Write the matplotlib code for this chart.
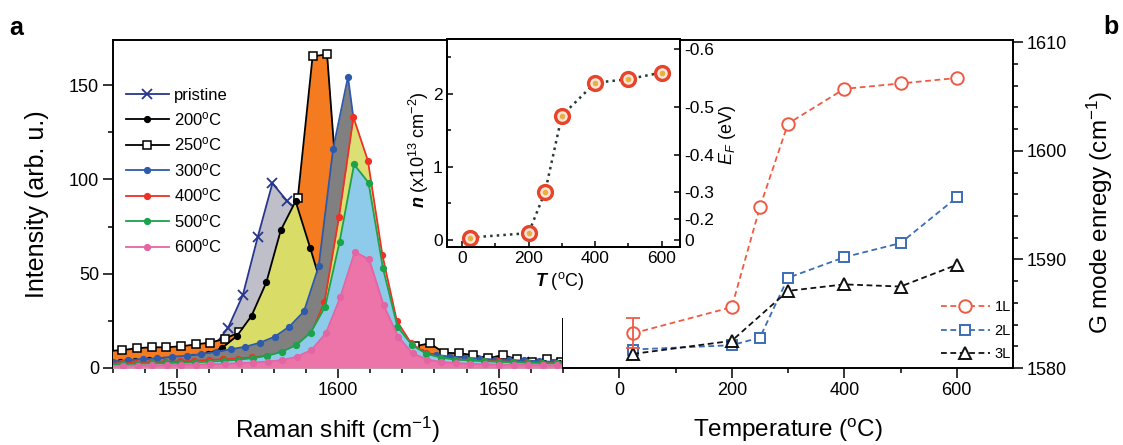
import matplotlib
matplotlib.use('Agg')
import matplotlib.pyplot as plt
from matplotlib.lines import Line2D
from matplotlib.ticker import FixedLocator

plt.rcParams['font.family'] = ['Liberation Sans', 'DejaVu Sans']
plt.rcParams['mathtext.fontset'] = 'custom'
plt.rcParams['mathtext.rm'] = 'Liberation Sans'
plt.rcParams['mathtext.it'] = 'Liberation Sans:italic'
plt.rcParams['mathtext.bf'] = 'Liberation Sans:italic:bold'

# ---------------- data: panel a (Raman spectra) ----------------
pristine_x = [1529.0, 1533.6, 1538.2, 1542.8, 1547.4, 1552.0, 1556.6, 1561.2, 1565.8, 1570.4, 1575.0,
              1579.6, 1584.2, 1588.8, 1593.4, 1598.0, 1602.6, 1607.2, 1611.8, 1616.4, 1621.0, 1625.6,
              1630.2, 1634.8, 1639.4, 1644.0, 1648.6, 1653.2, 1657.8, 1662.4, 1667.0, 1671.6]
pristine_y = [4.3, 4.5, 5.0, 5.5, 6.0, 6.5, 7.5, 11.0, 21.3, 38.7, 69.3,
              98.0, 88.5, 82.0, 45.0, 22.0, 13.0, 9.0, 7.0, 6.0, 5.0, 4.5,
              4.0, 4.0, 3.5, 3.5, 3.0, 3.0, 3.0, 2.5, 2.5, 2.5]

s200_x = [1527.7, 1532.2, 1536.8, 1541.3, 1545.9, 1550.4, 1555.0, 1559.5, 1564.0, 1568.6, 1573.1,
          1577.7, 1582.2, 1586.8, 1591.4, 1595.9, 1600.5, 1605.0, 1609.6, 1614.1, 1618.7, 1623.2,
          1627.8, 1632.3, 1636.9, 1641.4, 1646.0, 1650.5, 1655.1, 1659.6, 1664.2, 1668.7, 1673.3]
s200_y = [3.0, 3.0, 3.5, 4.0, 4.5, 5.0, 6.0, 7.6, 10.7, 17.1, 27.7,
          45.4, 73.1, 88.5, 63.4, 38.0, 22.0, 14.0, 10.0, 7.5, 6.0, 5.0,
          4.5, 4.0, 3.8, 3.5, 3.3, 3.0, 2.8, 2.6, 2.5, 2.4, 2.3]

s250_x = [1528.4, 1532.9, 1537.5, 1542.0, 1546.6, 1551.1, 1555.7, 1560.2, 1564.8, 1569.3, 1573.9,
          1578.4, 1583.0, 1587.5, 1592.1, 1596.6, 1601.2, 1605.7, 1610.3, 1614.8, 1619.4, 1623.9,
          1628.5, 1633.0, 1637.6, 1642.1, 1646.7, 1651.2, 1655.8, 1660.3, 1664.9, 1669.4, 1673.9]
s250_y = [9.0, 9.5, 10.5, 11.0, 11.0, 11.5, 12.5, 13.5, 15.5, 19.0, 24.0,
          36.0, 58.0, 90.3, 165.3, 166.4, 62.0, 25.0, 15.0, 12.0, 11.0, 11.5,
          13.1, 8.1, 7.8, 6.9, 5.1, 6.9, 4.6, 3.4, 4.6, 3.0, 3.0]

s300_x = [1525.5, 1530.1, 1534.7, 1539.2, 1543.8, 1548.4, 1552.9, 1557.5, 1562.0, 1566.6, 1571.2,
          1575.7, 1580.3, 1584.9, 1589.4, 1594.0, 1598.5, 1603.1, 1607.7, 1612.2, 1616.8, 1621.4,
          1625.9, 1630.5, 1635.0, 1639.6, 1644.2, 1648.7, 1653.3, 1657.9, 1662.4, 1667.0, 1671.6]
s300_y = [3.0, 3.4, 4.2, 4.8, 5.1, 6.0, 6.5, 7.4, 8.6, 9.9, 11.3,
          13.4, 16.6, 22.0, 30.0, 54.0, 116.4, 154.4, 95.0, 42.0, 20.0, 11.0,
          8.5, 7.0, 6.0, 5.5, 5.0, 4.5, 4.2, 4.0, 3.6, 3.3, 3.0]

s400_x = [1528.3, 1532.8, 1537.3, 1541.8, 1546.3, 1550.8, 1555.3, 1559.8, 1564.3, 1568.8, 1573.3,
          1577.8, 1582.3, 1586.8, 1591.3, 1595.8, 1600.3, 1604.8, 1609.3, 1613.8, 1618.3, 1622.8,
          1627.3, 1631.8, 1636.3, 1640.8, 1645.3, 1649.8, 1654.3, 1658.8, 1663.3, 1667.8, 1672.3]
s400_y = [2.4, 2.5, 2.8, 3.0, 3.2, 3.5, 3.8, 4.2, 4.6, 5.0, 5.6,
          6.5, 8.0, 11.0, 17.0, 35.0, 80.0, 133.0, 110.0, 60.0, 25.0, 13.0,
          8.0, 5.5, 4.5, 4.0, 3.8, 3.5, 3.3, 3.0, 2.8, 2.6, 2.5]

s500_x = [1528.5, 1533.0, 1537.5, 1542.0, 1546.5, 1551.0, 1555.5, 1560.0, 1564.5, 1569.0, 1573.5,
          1578.0, 1582.5, 1587.0, 1591.5, 1596.0, 1600.5, 1605.0, 1609.5, 1614.0, 1618.5, 1623.0,
          1627.5, 1632.0, 1636.5, 1641.0, 1645.5, 1650.0, 1654.5, 1659.0, 1663.5, 1668.0, 1672.5]
s500_y = [1.9, 2.0, 2.2, 2.4, 2.6, 2.8, 3.0, 3.4, 3.8, 4.4, 5.2,
          6.5, 8.6, 12.2, 18.8, 32.5, 67.0, 108.0, 98.3, 52.8, 21.9, 12.2,
          7.5, 5.5, 4.5, 4.0, 3.6, 3.3, 3.0, 2.8, 2.6, 2.4, 2.3]

s600_x = [1528.7, 1533.2, 1537.7, 1542.2, 1546.7, 1551.2, 1555.7, 1560.2, 1564.7, 1569.2, 1573.7,
          1578.2, 1582.7, 1587.2, 1591.7, 1596.2, 1600.7, 1605.2, 1609.7, 1614.2, 1618.7, 1623.2,
          1627.7, 1632.2, 1636.7, 1641.2, 1645.7, 1650.2, 1654.7, 1659.2, 1663.7, 1668.2, 1672.7]
s600_y = [1.1, 1.2, 1.3, 1.4, 1.5, 1.6, 1.8, 2.0, 2.2, 2.5, 2.9,
          3.4, 4.2, 6.0, 9.5, 18.4, 37.5, 61.6, 57.6, 33.4, 16.6, 7.8,
          4.5, 3.2, 2.6, 2.3, 2.0, 1.8, 1.7, 1.6, 1.5, 1.4, 1.3]

legend_labels_a = ['pristine', '200$^{\\rm o}$C', '250$^{\\rm o}$C', '300$^{\\rm o}$C',
                   '400$^{\\rm o}$C', '500$^{\\rm o}$C', '600$^{\\rm o}$C']

# ---------------- data: panel b (G mode energy) ----------------
T_12 = [25, 200, 250, 300, 400, 500, 600]
G_1L = [1583.2, 1585.6, 1594.8, 1602.5, 1605.7, 1606.2, 1606.7]
G_1L_err = 1.4
G_2L = [1581.7, 1582.1, 1582.8, 1588.3, 1590.2, 1591.5, 1595.7]
T_3 = [25, 200, 300, 400, 500, 600]
G_3L = [1581.3, 1582.5, 1587.1, 1587.7, 1587.5, 1589.5]

# ---------------- data: inset (carrier density) ----------------
T_in = [25, 200, 250, 300, 400, 500, 600]
n_in = [0.03, 0.09, 0.66, 1.70, 2.15, 2.20, 2.29]
EF_ticks = [0, -0.2, -0.3, -0.4, -0.5, -0.6]
EF_labels = ['0', '-0.2', '-0.3', '-0.4', '-0.5', '-0.6']
N_PER_EF2 = 7.25  # n (1e13 cm^-2) = 7.25 * EF^2 (eV)

# ---------------- figure ----------------
W, H = 1123, 445
fig = plt.figure(figsize=(W / 100, H / 100), dpi=100)


def fx(px):
    return px / W


def fy(py):
    return 1 - py / H


L_A, R_A, R_B, TOP, BOT = 113, 563, 1013, 40, 368
ax_a = fig.add_axes([fx(L_A), fy(BOT), fx(R_A) - fx(L_A), fy(TOP) - fy(BOT)])
ax_b = fig.add_axes([fx(R_A), fy(BOT), fx(R_B) - fx(R_A), fy(TOP) - fy(BOT)])

SPINE_LW = 1.4
TICK_FS = 13

# panel a
ax_a.set_xlim(1530, 1670)
ax_a.set_ylim(0, 174)
draw_order = [
    (pristine_x, pristine_y, '#bfbfc9', dict(color='#28358c', marker='x', ms=6.5, mew=1.3)),
    (s250_x, s250_y, '#f47b20', dict(color='black', marker='s', ms=5.5, mfc='white', mec='black', mew=1.1)),
    (s200_x, s200_y, '#d9dc66', dict(color='black', marker='o', ms=4.2)),
    (s300_x, s300_y, '#808080', dict(color='#2e5aac', marker='o', ms=4.2)),
    (s400_x, s400_y, '#dcdf74', dict(color='#ee3124', marker='o', ms=4.2)),
    (s500_x, s500_y, '#8ecbea', dict(color='#1ba24a', marker='o', ms=4.2)),
    (s600_x, s600_y, '#ec74a8', dict(color='#e465a3', marker='o', ms=4.2)),
]
for i, (xs, ys, fc, st) in enumerate(draw_order):
    ax_a.fill_between(xs, 0, ys, color=fc, lw=0, zorder=2 + 2 * i)
    ax_a.plot(xs, ys, lw=1.3, zorder=3 + 2 * i, **st)

legend_styles = [draw_order[0][3], draw_order[2][3], draw_order[1][3], draw_order[3][3],
                 draw_order[4][3], draw_order[5][3], draw_order[6][3]]
handles = [Line2D([], [], lw=1.3, **st) for st in legend_styles]
ax_a.legend(handles, legend_labels_a, loc='upper left', bbox_to_anchor=(0.028, 0.855),
            frameon=False, fontsize=12, handlelength=2.6, handletextpad=0.3,
            labelspacing=0.45, borderpad=0, borderaxespad=0)

ax_a.xaxis.set_major_locator(FixedLocator([1550, 1600, 1650]))
ax_a.xaxis.set_minor_locator(FixedLocator([1530, 1540, 1560, 1570, 1580, 1590, 1610, 1620, 1630, 1640, 1660, 1670]))
ax_a.yaxis.set_major_locator(FixedLocator([0, 50, 100, 150]))
ax_a.yaxis.set_minor_locator(FixedLocator([25, 75, 125]))
ax_a.spines['right'].set_visible(False)
ax_a.plot([1, 1], [0, 0.152], transform=ax_a.transAxes, color='black', lw=SPINE_LW,
          clip_on=False, zorder=30, solid_capstyle='butt')

# panel b
ax_b.set_xlim(-100, 700)
ax_b.set_ylim(1580, 1610.2)
c1, c2, c3 = '#ef5a43', '#3b6cb7', '#111111'
dash = (0, (3.2, 2.0))
ax_b.plot(T_12, G_1L, ls=dash, lw=1.3, color=c1, marker='o', ms=9, mfc='white', mec=c1, mew=1.4, label='1L', zorder=4)
ax_b.plot(T_12, G_2L, ls=dash, lw=1.3, color=c2, marker='s', ms=7.5, mfc='white', mec=c2, mew=1.4, label='2L', zorder=3)
ax_b.plot(T_3, G_3L, ls=dash, lw=1.3, color=c3, marker='^', ms=9, mfc='white', mec=c3, mew=1.4, label='3L', zorder=3)
ax_b.errorbar([T_12[0]], [G_1L[0]], yerr=[[G_1L_err], [G_1L_err]], fmt='none', ecolor=c1,
              elinewidth=1.3, capsize=5, capthick=1.3, zorder=5)
ax_b.legend(loc='lower right', bbox_to_anchor=(0.995, 0.02), frameon=False, fontsize=10.5,
            handlelength=3.4, handletextpad=0.3, labelspacing=0.65, borderpad=0, borderaxespad=0)
ax_b.xaxis.set_major_locator(FixedLocator([0, 200, 400, 600]))
ax_b.xaxis.set_minor_locator(FixedLocator([100, 300, 500]))
ax_b.yaxis.set_major_locator(FixedLocator([1580, 1590, 1600, 1610]))
ax_b.yaxis.set_minor_locator(FixedLocator([1582, 1584, 1586, 1588, 1592, 1594, 1596, 1598, 1602, 1604, 1606, 1608]))
ax_b.yaxis.tick_right()
ax_b.spines['left'].set_visible(False)

for ax in (ax_a, ax_b):
    for sp in ax.spines.values():
        sp.set_linewidth(SPINE_LW)
    ax.tick_params(which='major', direction='out', length=7, width=1.1, labelsize=TICK_FS, pad=3)
    ax.tick_params(which='minor', direction='out', length=3.6, width=1.1)
    ax.tick_params(top=False, which='both')
ax_a.tick_params(right=False, which='both')
ax_b.tick_params(left=False, which='both')

# axis labels
fig.text(fx(338), fy(430), 'Raman shift (cm$^{-1}$)', ha='center', va='center', fontsize=17.5)
fig.text(fx(788), fy(430), 'Temperature ($^{\\rm o}$C)', ha='center', va='center', fontsize=17.5)
fig.text(fx(37), fy(204), 'Intensity (arb. u.)', ha='center', va='center', rotation=90, fontsize=18)
fig.text(fx(1100), fy(212), 'G mode enregy (cm$^{-1}$)', ha='center', va='center', rotation=90, fontsize=17.5)
fig.text(fx(16), fy(28), 'a', ha='center', va='center', fontsize=18, fontweight='bold')
fig.text(fx(1111), fy(27), 'b', ha='center', va='center', fontsize=18, fontweight='bold')

# inset
ax_in = fig.add_axes([fx(447), fy(247), fx(680) - fx(447), fy(39) - fy(247)])
ax_in.set_facecolor('white')
ax_in.set_xlim(-45, 655)
ax_in.set_ylim(-0.1, 2.75)
ax_in.plot(T_in, n_in, ls=':', color='#263838', lw=1.8, zorder=2)
ax_in.plot(T_in, n_in, ls='none', marker='o', ms=10, mfc='#fde5d8', mec='#e8442c', mew=2.4, zorder=3)
ax_in.plot(T_in, n_in, ls='none', marker='o', ms=3, color='#e8b040', zorder=4)
ax_in.xaxis.set_major_locator(FixedLocator([0, 200, 400, 600]))
ax_in.xaxis.set_minor_locator(FixedLocator([100, 300, 500]))
ax_in.yaxis.set_major_locator(FixedLocator([0, 1, 2]))
ax_in.yaxis.set_minor_locator(FixedLocator([0.5, 1.5, 2.5]))
ax_in2 = ax_in.twinx()
ax_in2.set_ylim(ax_in.get_ylim())
ax_in2.yaxis.set_major_locator(FixedLocator([N_PER_EF2 * e ** 2 for e in EF_ticks]))
ax_in2.set_yticklabels(EF_labels)
for ax in (ax_in, ax_in2):
    for sp in ax.spines.values():
        sp.set_linewidth(SPINE_LW)
    ax.tick_params(which='major', direction='in', length=4.5, width=1.1, labelsize=12.5, pad=3)
    ax.tick_params(which='minor', direction='in', length=3, width=1.1)
fig.text(fx(560), fy(281), '$\\mathbf{T}$ ($^{\\rm o}$C)', ha='center', va='center', fontsize=13)
fig.text(fx(419), fy(150), '$\\mathbf{n}$ (x10$^{13}$ cm$^{-2}$)', ha='center', va='center', rotation=90, fontsize=13)
fig.text(fx(728), fy(135), '$E_F$ (eV)', ha='center', va='center', rotation=90, fontsize=13)

fig.savefig('out.png', dpi=100)
